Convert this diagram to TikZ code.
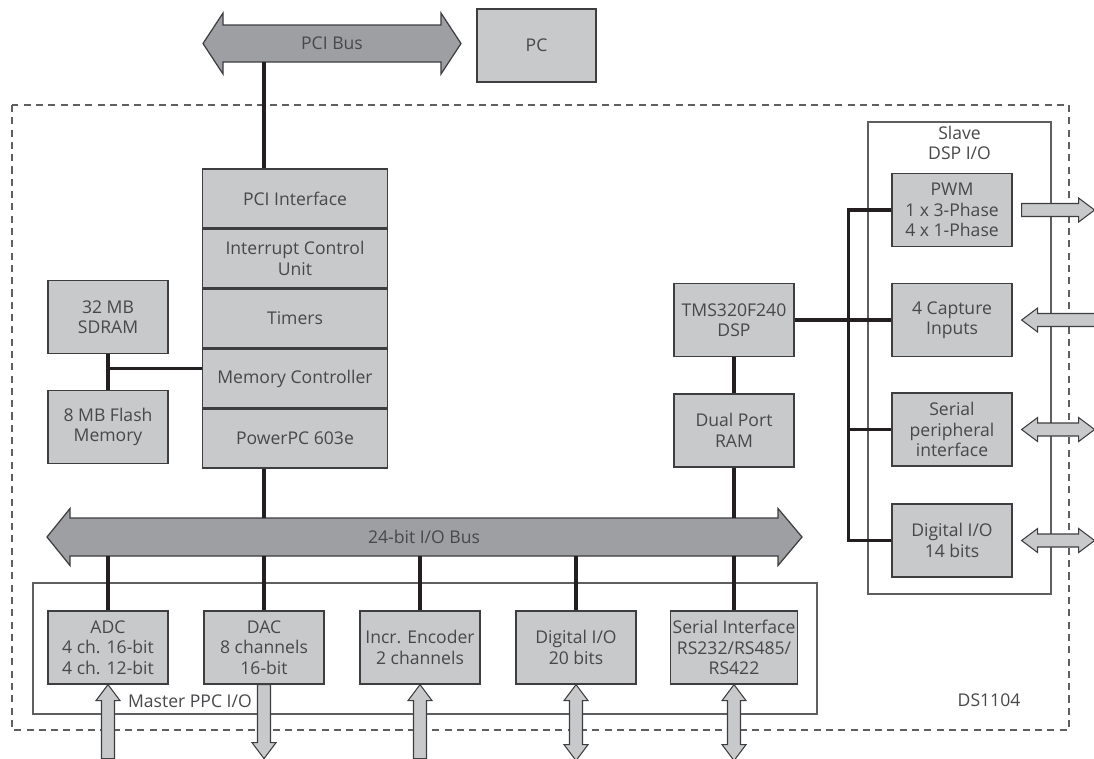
\documentclass[tikz,border=0pt]{standalone}
\usepackage{fontspec}
\setmainfont{Open Sans}
\usepackage{tikz}
\usetikzlibrary{positioning, calc}
\definecolor{boxfill}{RGB}{200,201,203}
\definecolor{busfill}{RGB}{157,159,162}
\definecolor{boxline}{RGB}{62,62,64}
\definecolor{frameline}{RGB}{95,95,97}
\definecolor{txt}{RGB}{72,72,74}
\definecolor{wire}{RGB}{35,31,32}
% port arrows (units are picture px, y runs downward)
\newcommand{\portR}[2]{\draw[port] #1 ++(0,-6.5) -- ++(#2-16,0) -- ++(0,-5.5) -- ++(16,12) -- ++(-16,12) -- ++(0,-5.5) -- ++(16-#2,0) -- cycle;}
\newcommand{\portL}[2]{\draw[port] #1 -- ++(16,-12) -- ++(0,5.5) -- ++(#2-16,0) -- ++(0,13) -- ++(16-#2,0) -- ++(0,5.5) -- cycle;}
\newcommand{\portLR}[2]{\draw[port] #1 -- ++(16,-12) -- ++(0,5.5) -- ++(#2-32,0) -- ++(0,-5.5) -- ++(16,12) -- ++(-16,12) -- ++(0,-5.5) -- ++(32-#2,0) -- ++(0,5.5) -- cycle;}
\newcommand{\portU}[2]{\draw[port] #1 -- ++(12,16) -- ++(-5.5,0) -- ++(0,#2-16) -- ++(-13,0) -- ++(0,16-#2) -- ++(-5.5,0) -- cycle;}
\newcommand{\portD}[2]{\draw[port] #1 ++(-6.5,0) -- ++(0,#2-16) -- ++(-5.5,0) -- ++(12,16) -- ++(12,-16) -- ++(-5.5,0) -- ++(0,16-#2) -- cycle;}
\newcommand{\portUD}[2]{\draw[port] #1 -- ++(12,16) -- ++(-5.5,0) -- ++(0,#2-32) -- ++(5.5,0) -- ++(-12,16) -- ++(-12,-16) -- ++(5.5,0) -- ++(0,32-#2) -- ++(-5.5,0) -- cycle;}

\begin{document}
\begin{tikzpicture}[
    x=0.02cm, y=-0.02cm,
    font=\fontsize{10}{11.6}\selectfont,
    box/.style={
        draw=boxline, fill=boxfill, line width=0.7pt,
        align=center, inner sep=1pt, text=txt,
        minimum width=2.4cm, minimum height=1.46cm
    },
    stackrow/.style={box, minimum width=3.7cm, minimum height=1.176cm},
    busbody/.style={draw=boxline, fill=busfill, line width=0.7pt, line join=miter},
    buslabel/.style={inner sep=0pt, text=txt},
    link/.style={draw=wire, line width=1.9pt},
    port/.style={draw=boxline, fill=boxfill, line width=0.6pt, line join=miter},
    group/.style={draw=frameline, line width=0.6pt},
    board/.style={draw=frameline, line width=0.6pt, dash pattern=on 4pt off 3pt},
    tag/.style={text=txt, inner sep=1pt}
]

% ---- Page is the reference frame ----
\useasboundingbox (0,0) rectangle (1094,758);

% ---- DS1104 board and its two I/O groups ----
\draw[board] (12,105) rectangle (1069,730);
\draw[group] (33,583) rectangle (817,714);
\draw[group] (868,122) rectangle (1051,594);
\node[tag] (boardname) at (989,700) {DS1104};
\node[tag, anchor=west] (mastername) at (126,701) {Master PPC I/O};
\node[tag, align=center] (slavename) at (959.5,143) {Slave\\DSP I/O};

% ---- PCI bus and host ----
\draw[busbody] (203,43.5) -- (223,13) -- (223,25) -- (441,25) -- (441,13)
    -- (461,43.5) -- (441,74) -- (441,62) -- (223,62) -- (223,74) -- cycle;
\node[buslabel, minimum width=4.36cm, minimum height=0.74cm] (pcibus) at (332,43.5) {PCI Bus};
\node[box, minimum width=2.38cm] (pc) at (536.5,45.5) {PC};

% ---- PowerPC stack ----
\node[stackrow] (pciif) at (295,198.5) {PCI Interface};
\node[stackrow, below=0pt of pciif] (icu) {Interrupt Control\\Unit};
\node[stackrow, below=0pt of icu] (timers) {Timers};
\node[stackrow, below=0pt of timers] (memctl) {Memory Controller};
\node[stackrow, below=0pt of memctl] (ppc) {PowerPC 603e};

% ---- Memories ----
\node[box] (sdram) at (108,317) {32 MB\\SDRAM};
\node[box] (flash) at (108,427) {8 MB Flash\\Memory};

% ---- Slave DSP ----
\node[box] (dsp) at (734,320) {TMS320F240\\DSP};
\node[box] (ram) at (734,430.5) {Dual Port\\RAM};
\node[box] (pwm) at (952,210) {PWM\\1 x 3-Phase\\4 x 1-Phase};
\node[box] (capture) at (952,320) {4 Capture\\Inputs};
\node[box] (spi) at (952,429.5) {Serial\\peripheral\\interface};
\node[box] (dio14) at (952,540.5) {Digital I/O\\14 bits};

% ---- 24-bit I/O bus ----
\draw[busbody] (47,537) -- (70,508.5) -- (70,518) -- (778,518) -- (778,508.5)
    -- (802,537) -- (778,565.5) -- (778,556) -- (70,556) -- (70,565.5) -- cycle;
\node[buslabel, minimum width=14.16cm, minimum height=0.76cm] (iobus) at (424,537) {24-bit I/O Bus};

% ---- Master PPC I/O ----
\node[box] (adc) at (108,647.5) {ADC\\4 ch. 16-bit\\4 ch. 12-bit};
\node[box] (dac) at (264,647.5) {DAC\\8 channels\\16-bit};
\node[box] (enc) at (420,647.5) {Incr. Encoder\\2 channels};
\node[box] (dio20) at (576,647.5) {Digital I/O\\20 bits};
\node[box] (ser) at (734,647.5) {Serial Interface\\RS232/RS485/\\RS422};

% ---- Connections ----
\draw[link] (pcibus.south -| dac.north) -- (pciif.north -| dac.north);
\draw[link] (ppc.south -| dac.north) -- (iobus.north -| dac.north);
\draw[link] (sdram.south) -- (flash.north);
\coordinate (memjoin) at ($(sdram.south)!0.4!(flash.north)$);
\draw[link] (memjoin) -- (memjoin -| memctl.west);
\draw[link] (dsp.south) -- (ram.north);
\draw[link] (ram.south) -- (iobus.north -| ram.south);
\foreach \dev in {adc, dac, enc, dio20, ser}
    \draw[link] (iobus.south -| \dev.north) -- (\dev.north);

% slave bus
\coordinate (slvtop) at ($(pwm.west)+(-43,0)$);
\coordinate (slvbot) at (slvtop |- dio14.west);
\draw[link] (pwm.west) -- (slvtop) -- (slvbot) -- (dio14.west);
\draw[link] (dsp.east) -- (capture.west);
\draw[link] (spi.west) -- (spi.west -| slvtop);

% ---- External I/O ----
\portR{($(pwm.east)+(9,0)$)}{73}
\portL{($(capture.east)+(9,0)$)}{73}
\portLR{($(spi.east)+(9,0)$)}{73}
\portLR{($(dio14.east)+(9,0)$)}{73}
\portU{(adc.south)}{74}
\portD{(dac.south)}{74}
\portU{(enc.south)}{74}
\portUD{(dio20.south)}{76}
\portUD{(ser.south)}{76}

\end{tikzpicture}
\end{document}
